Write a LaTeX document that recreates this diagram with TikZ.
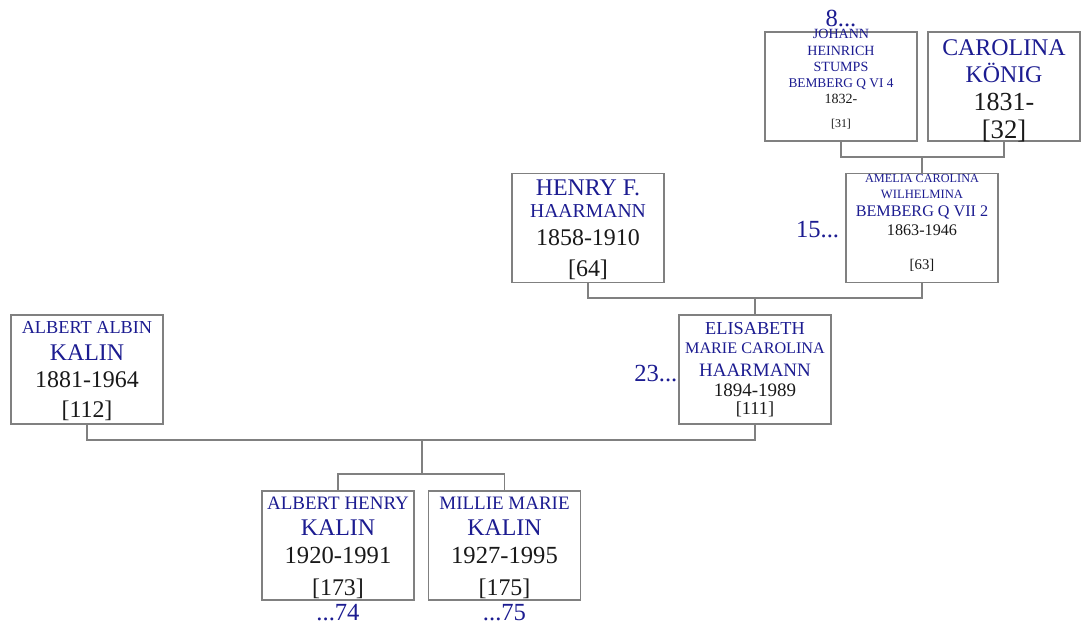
\documentclass[tikz,border=0pt]{standalone}
\usepackage{fontspec}
\setmainfont{Liberation Serif}
\usepackage{xcolor}
\usetikzlibrary{positioning}
\definecolor{navy}{RGB}{28,28,145}
\definecolor{boxgray}{RGB}{128,128,128}
\newcommand{\fsz}[2]{\fontsize{#1}{#2}\selectfont}
\newcommand{\sz}[1]{\fontsize{#1}{#1}\selectfont}
\newcommand{\nm}[1]{\textcolor{navy}{#1}}

\begin{document}
\begin{tikzpicture}[x=0.025cm,y=-0.025cm,
  person/.style={draw=boxgray,line width=0.8pt,fill=white,minimum width=3.8cm,
    minimum height=2.725cm,align=center,inner sep=0pt,text=black!90,
    font=\fsz{10}{#1}},
  link/.style={draw=boxgray,line width=0.8pt},
  more/.style={text=navy,inner sep=0pt,font=\fsz{17.5}{18}}]
  \useasboundingbox (0,0) rectangle (1085,626);
  % generation of the great-grandparents
  \node[person=10.7, text height=59pt] (jhs) at (841,86.5)
    {\sz{10}\nm{JOHANN}\\[1.2pt]
     \sz{10}\nm{HEINRICH}\\[0.7pt]
     \sz{10}\nm{STUMPS}\\[0.5pt]
     \sz{9.5}\nm{BEMBERG Q VI 4}\\[1pt]
     \sz{10}1832-\\[5.9pt]
     \sz{8.5}[31]};
  \node[person=17.8, text height=74.4pt, text depth=0pt] (ck) at (1004,86.5)
    {\sz{17}\nm{CAROLINA}\\[1pt]
     \sz{17}\nm{KÖNIG}\\[2.5pt]
     \sz{18.5}1831-\\[2pt]
     \sz{19}[32]};
  \node[more, above=0.1cm of jhs] (up8) {8...};
  % grandparents
  \node[person=15.4, text depth=0pt] (hf) at (588,228)
    {\sz{17}\nm{HENRY F.}\\[0.8pt]
     \sz{14}\nm{HAARMANN}\\[4pt]
     \sz{17}1858-1910\\[7pt]
     \sz{17}[64]};
  \node[person=11.4, text height=60.6pt] (acw) at (922,228)
    {\sz{8.7}\nm{AMELIA CAROLINA}\\
     \sz{9}\nm{WILHELMINA}\\[1pt]
     \sz{11.5}\nm{BEMBERG Q VII 2}\\[2.3pt]
     \sz{11.5}1863-1946\\[13pt]
     \sz{10.5}[63]};
  \node[more, left=0.15cm of acw, yshift=-1pt] (up15) {15...};
  % parents
  \node[person=19.2, text depth=0pt] (aak) at (87,369.5)
    {\sz{13}\nm{ALBERT ALBIN}\\
     \sz{17}\nm{KALIN}\\
     \sz{17}1881-1964\\[2.5pt]
     \sz{17}[112]};
  \node[person=12.4] (ehm) at (755,369.5)
    {\sz{13}\nm{ELISABETH}\\[1.4pt]
     \sz{11.5}\nm{MARIE CAROLINA}\\[3.8pt]
     \sz{13.5}\nm{HAARMANN}\\[1.8pt]
     \sz{13.5}1894-1989\\[0.6pt]
     \sz{13}[111]};
  \node[more, left=0.02cm of ehm, yshift=-3pt] (up23) {23...};
  % children
  \node[person=17.8, text height=70.5pt, text depth=0pt] (ahk) at (338,545.5)
    {\sz{13.5}\nm{ALBERT HENRY}\\[0.6pt]
     \sz{17}\nm{KALIN}\\[2pt]
     \sz{17.5}1920-1991\\[5pt]
     \sz{17}[173]};
  \node[person=17.8, text height=70.5pt, text depth=0pt] (mmk) at (504.5,545.5)
    {\sz{13.5}\nm{MILLIE MARIE}\\[0.6pt]
     \sz{17}\nm{KALIN}\\[2pt]
     \sz{17.5}1927-1995\\[5pt]
     \sz{17}[175]};
  \node[more, below=0.09cm of ahk] (dn74) {...74};
  \node[more, below=0.09cm of mmk] (dn75) {...75};
  % family lines
  \coordinate (fam1) at (922,157);
  \coordinate (fam2) at (755,298);
  \coordinate (fam3) at (422,440);
  \coordinate (kids) at (422,474);
  \draw[link] (jhs.south) |- (fam1) -| (ck.south);
  \draw[link] (fam1) -- (acw.north);
  \draw[link] (hf.south) |- (fam2) -| (acw.south);
  \draw[link] (fam2) -- (ehm.north);
  \draw[link] (aak.south) |- (fam3) -| (ehm.south);
  \draw[link] (fam3) -- (kids);
  \draw[link] (ahk.north) |- (kids) -| (mmk.north);
\end{tikzpicture}
\end{document}
